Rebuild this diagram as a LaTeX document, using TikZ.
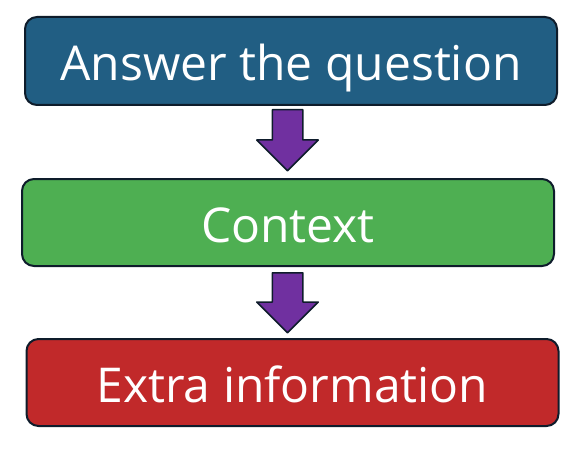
\documentclass[tikz,border=0pt]{standalone}
\usepackage{fontspec}
\setmainfont{Open Sans}
\usetikzlibrary{shapes.arrows}
\definecolor{answerblue}{HTML}{215E83}
\definecolor{contextgreen}{HTML}{4EAF52}
\definecolor{extrared}{HTML}{C1292A}
\definecolor{arrowpurple}{HTML}{7030A0}
\definecolor{edgedark}{HTML}{0E1C2B}
\begin{document}
\begin{tikzpicture}[x=1pt, y=-1pt, line join=round,
	box/.style={draw=edgedark, line width=2pt, rounded corners=12pt, text=white,
		minimum width=532pt, minimum height=87pt, inner sep=0pt,
		text height=40pt, text depth=0pt,
		font=\fontsize{48}{56}\selectfont},
	downarrow/.style={single arrow, draw=edgedark, fill=arrowpurple, line width=1.5pt,
		shape border rotate=270, inner sep=14.5pt, single arrow head extend=15.5pt,
		single arrow head indent=0pt, minimum height=61pt, anchor=tail}]
	%% khung
	\useasboundingbox (0,0) rectangle (580,457);
	%% ba hop
	\node[box, fill=answerblue, minimum height=88pt] (answer) at (291,61) {Answer the question};
	\node[box, fill=contextgreen] (context) at (288,222.5) {Context};
	\node[box, fill=extrared] (extra) at (292.5,382.5) {Extra information};
	%% mui ten
	\node[downarrow] (arrA) at (287.5,109) {};
	\node[downarrow, minimum height=60pt] (arrB) at (287.5,272) {};
\end{tikzpicture}
\end{document}
